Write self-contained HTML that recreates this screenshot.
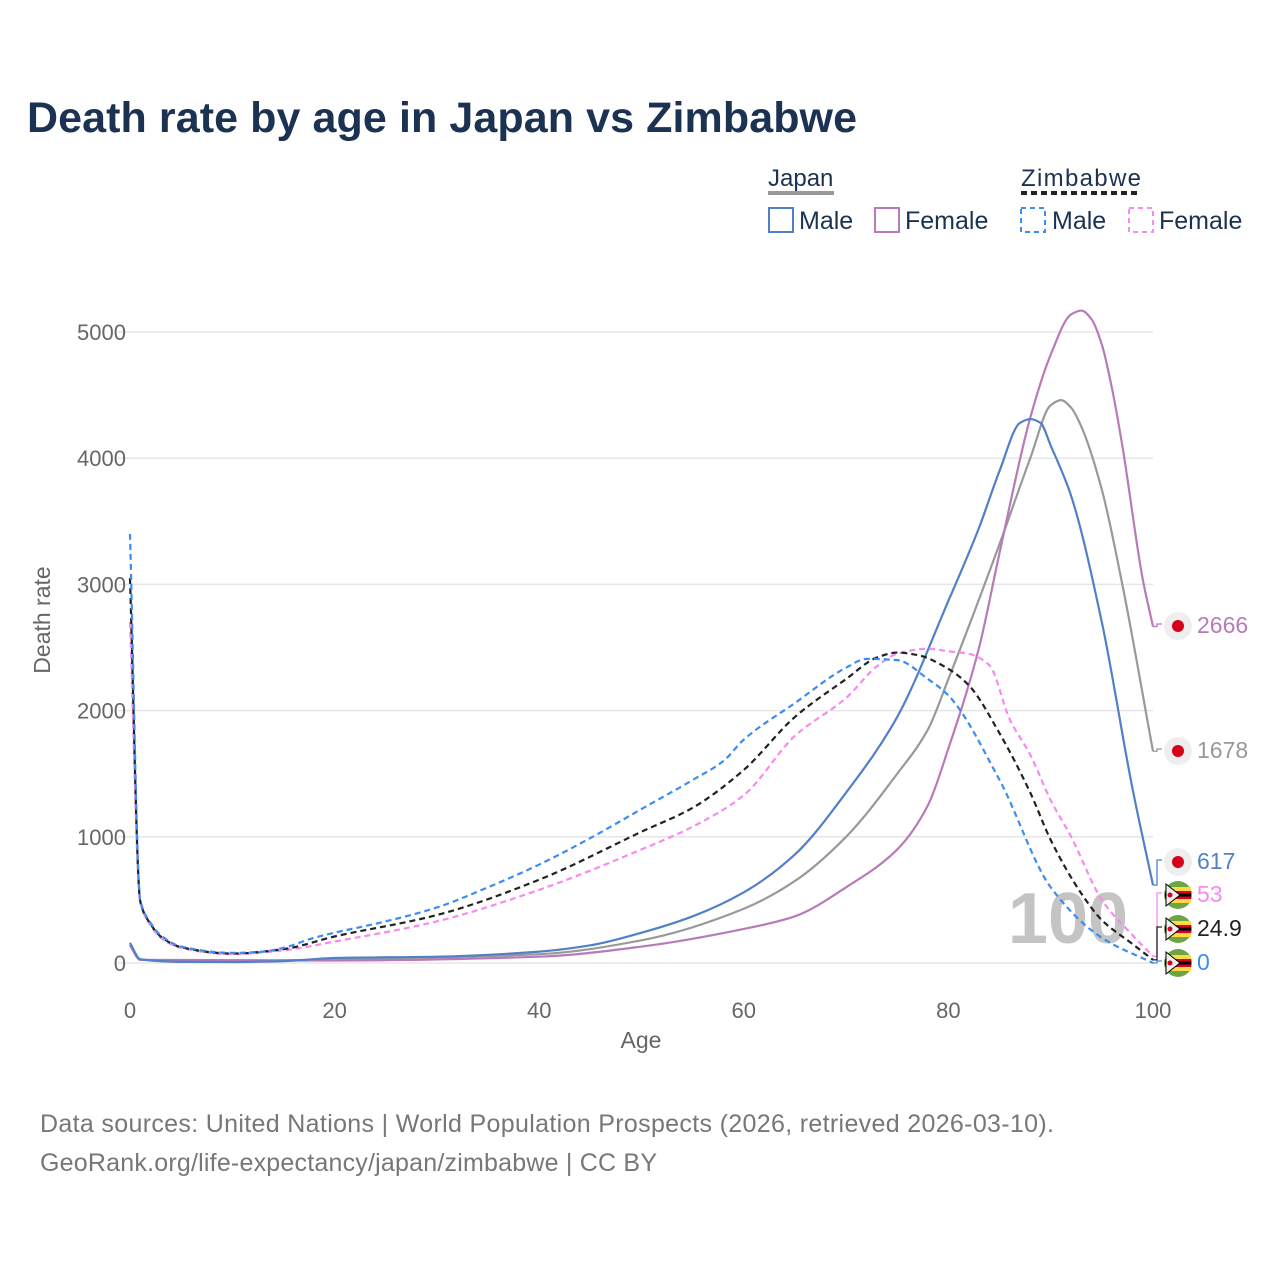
<!DOCTYPE html>
<html><head><meta charset="utf-8">
<style>
body{margin:0;background:#fff;font-family:"Liberation Sans",sans-serif;}
svg text{font-family:"Liberation Sans",sans-serif;}
</style></head>
<body>
<svg id="chart" width="1280" height="1280" viewBox="0 0 1280 1280" xmlns="http://www.w3.org/2000/svg">
<rect width="1280" height="1280" fill="#fff"/>
<text x="27" y="132" font-size="43" font-weight="bold" fill="#1b3252" textLength="830">Death rate by age in Japan vs Zimbabwe</text>
<g font-size="25" fill="#1b3252">
 <text x="768" y="186" fill="#1b3252" font-size="24">Japan</text>
 <line x1="768" y1="193" x2="834" y2="193" stroke="#999" stroke-width="4"/>
 <text x="1021" y="186" fill="#1b3252" font-size="24" textLength="120">Zimbabwe</text>
 <line x1="1021" y1="193" x2="1141" y2="193" stroke="#222" stroke-width="4" stroke-dasharray="6,4"/>
 <g><rect x="769" y="208" width="24" height="24" fill="none" stroke="#5280c8" stroke-width="2"/><text x="799" y="229">Male</text></g>
 <g><rect x="875" y="208" width="24" height="24" fill="none" stroke="#b87ab8" stroke-width="2"/><text x="905" y="229">Female</text></g>
 <g><rect x="1021" y="208" width="24" height="24" fill="none" stroke="#3d8cf2" stroke-width="2" stroke-dasharray="5,4"/><text x="1052" y="229">Male</text></g>
 <g><rect x="1129" y="208" width="24" height="24" fill="none" stroke="#f78af0" stroke-width="2" stroke-dasharray="5,4"/><text x="1159" y="229">Female</text></g>
</g>
<g id="grid"></g>
<text x="1068" y="943" font-size="72" font-weight="bold" fill="#c4c4c4" text-anchor="middle">100</text>
<g id="series"></g>
<g id="labels"></g>
<text transform="translate(50,620) rotate(-90)" font-size="23" fill="#666" text-anchor="middle">Death rate</text>
<text x="641" y="1048" font-size="23" fill="#666" text-anchor="middle">Age</text>
<text x="40" y="1132" font-size="25" fill="#777" textLength="1014">Data sources: United Nations | World Population Prospects (2026, retrieved 2026-03-10).</text>
<text x="40" y="1171" font-size="25" fill="#777" textLength="617">GeoRank.org/life-expectancy/japan/zimbabwe | CC BY</text>
</svg>
<script>
const yTicks=[0,1000,2000,3000,4000,5000];
const xTicks=[0,20,40,60,80,100];
const jpMaleAge=[0,1,5,10,15,20,30,40,45,50,55,60,65,70,75,80,83,85,87,88,89,90,92,95,98,100];
const jpMale=[160,30,10,8,15,40,50,90,140,240,370,560,860,1350,1950,2870,3450,3900,4280,4310,4280,4100,3700,2700,1380,617];
const jpTotAge=[0,1,5,20,40,50,60,65,70,75,78,80,85,88,90,91,92,93,95,97,100];
const jpTotal=[150,28,9,30,70,180,430,650,1000,1500,1850,2250,3320,4000,4420,4460,4400,4250,3750,3000,1678];
const jpFemAge=[0,1,20,40,50,60,65,70,75,78,80,83,85,88,90,92,93,94,95,96,97,99,100];
const jpFemale=[140,25,20,50,130,270,370,600,900,1250,1700,2500,3250,4320,4820,5140,5170,5100,4900,4550,4100,3040,2666];
const zwMaleAge=[0,1,2,3,5,10,13,15,18,20,25,30,35,40,45,50,55,58,60,65,70,72,75,78,80,85,90,95,100];
const zwMale=[3400,500,320,220,130,80,90,120,200,240,330,440,600,780,990,1220,1450,1600,1770,2060,2340,2410,2400,2250,2120,1450,600,200,0];
const zwTotAge=[0,1,2,3,5,10,15,20,30,40,50,55,60,65,70,73,75,77,80,82,85,88,90,93,95,98,100];
const zwTotal=[3050,490,310,210,125,75,110,210,380,660,1040,1230,1530,1950,2250,2420,2460,2440,2330,2200,1820,1350,975,550,340,150,24.9];
const zwFemAge=[0,1,2,3,5,10,15,20,30,40,50,55,60,65,70,73,75,78,80,82,84,86,88,90,92,95,98,100];
const zwFemale=[2700,480,300,200,120,70,100,170,330,580,900,1080,1330,1800,2100,2350,2450,2490,2470,2450,2360,1930,1650,1290,1000,500,220,53];
const endLabels=["2666","1678","617","53","24.9","0"];

const X=a=>130+a*10.23, Y=v=>963-v*0.1262;
const NS="http://www.w3.org/2000/svg";
const mk=(t,at)=>{const e=document.createElementNS(NS,t);for(const k in at)e.setAttribute(k,at[k]);return e;};
const grid=document.getElementById('grid');
yTicks.forEach(t=>{
 const l=mk('line',{x1:118,x2:1153,y1:Y(t),y2:Y(t),stroke:'#e6e6e6','stroke-width':1.5});
 
 
 grid.appendChild(l);
 const tx=mk('text',{x:126,y:Y(t)+8,'font-size':22,fill:'#666','text-anchor':'end'});tx.textContent=t;
 
 
 grid.appendChild(tx);
});
xTicks.forEach(t=>{
 const tx=mk('text',{x:X(t),y:1018,'font-size':22,fill:'#666','text-anchor':'middle'});tx.textContent=t;
 
 
 grid.appendChild(tx);
});
function monotone(xs,ys){
 const n=xs.length,d=[],h=[],m=[];
 for(let i=0;i<n-1;i++){h.push(xs[i+1]-xs[i]);d.push((ys[i+1]-ys[i])/h[i]);}
 m[0]=d[0];m[n-1]=d[n-2];
 for(let i=1;i<n-1;i++){
  if(d[i-1]*d[i]<=0){m[i]=0;continue;}
  const w1=2*h[i]+h[i-1],w2=h[i]+2*h[i-1];
  m[i]=(w1+w2)/(w1/d[i-1]+w2/d[i]);
 }
 let p=`M${xs[0]},${ys[0]}`;
 for(let i=0;i<n-1;i++){const k=h[i]/3;p+=`C${xs[i]+k},${ys[i]+m[i]*k} ${xs[i+1]-k},${ys[i+1]-m[i+1]*k} ${xs[i+1]},${ys[i+1]}`;}
 return p;
}
const ser=document.getElementById('series');
function draw(ages,vals,color,dash,name){
 const p=mk('path',{d:monotone(ages.map(X),vals.map(Y)),fill:'none',stroke:color,'stroke-width':2.2});
 if(dash)p.setAttribute('stroke-dasharray','6,4');
 
 
 ser.appendChild(p);
}
draw(jpTotAge,jpTotal,'#999',false,'line-japan-total');
draw(jpFemAge,jpFemale,'#b87ab8',false,'line-japan-female');
draw(jpMaleAge,jpMale,'#5280c8',false,'line-japan-male');
draw(zwFemAge,zwFemale,'#f78af0',true,'line-zimbabwe-female');
draw(zwTotAge,zwTotal,'#222',true,'line-zimbabwe-total');
draw(zwMaleAge,zwMale,'#3d8cf2',true,'line-zimbabwe-male');

const lab=document.getElementById('labels');
const ends=[[jpFemale,'#b87ab8',624,'jp'],[jpTotal,'#999',749,'jp'],[jpMale,'#5280c8',860,'jp'],[zwFemale,'#f78af0',893,'zw'],[zwTotal,'#222',927,'zw'],[zwMale,'#3d8cf2',961,'zw']];
ends.forEach((e,i)=>{
 const v=e[0][e[0].length-1],y0=Y(v),y1=e[2];
 const c=mk('path',{d:`M1153,${y0}L1157,${y0}L1157,${y1}L1162,${y1}`,fill:'none',stroke:e[1],'stroke-width':1.3});
 
 
 lab.appendChild(c);
 const g=mk('g',{});
 
 
 if(e[3]==='jp'){
  g.appendChild(mk('circle',{cx:1178,cy:y1+2,r:14,fill:'#eee'}));
  g.appendChild(mk('circle',{cx:1178,cy:y1+2,r:6,fill:'#d7001a'}));
 }else{
  const cy=y1+2;
  g.appendChild(mk('circle',{cx:1178,cy:cy,r:14,fill:'#6da544'}));
  g.appendChild(mk('rect',{x:1165,y:cy-8,width:26,height:16,fill:'#ffda44'}));
  g.appendChild(mk('rect',{x:1165,y:cy-4,width:26,height:8,fill:'#d80027'}));
  g.appendChild(mk('rect',{x:1165,y:cy-1.5,width:26,height:3,fill:'#000'}));
  g.appendChild(mk('path',{d:`M1166,${cy-11}L1180,${cy}L1166,${cy+11}Z`,fill:'#eee',stroke:'#000','stroke-width':1}));
  g.appendChild(mk('circle',{cx:1170,cy:cy,r:2.5,fill:'#d80027'}));
 }
 lab.appendChild(g);
 const t=mk('text',{x:1197,y:y1+9,'font-size':23,fill:e[1]});t.textContent=endLabels[i];
 
 
 lab.appendChild(t);
});
</script>
</body></html>
